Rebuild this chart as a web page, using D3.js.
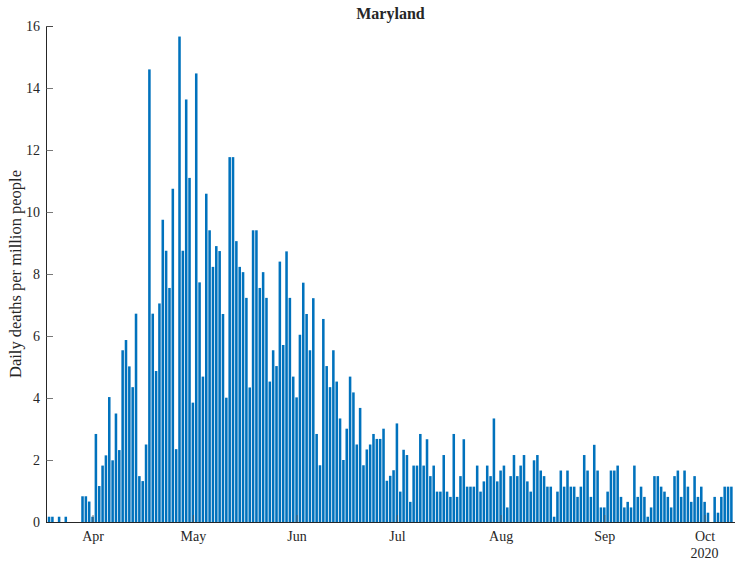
<!DOCTYPE html>
<html>
<head>
<meta charset="utf-8">
<script src="https://cdn.jsdelivr.net/npm/d3@7"></script>
<style>
  html, body { margin: 0; padding: 0; background: #fff; }
  svg { display: block; }
  text { font-family: "Liberation Serif", "Times New Roman", serif; fill: #262626; }
</style>
</head>
<body>
<svg id="chart" width="735" height="561"></svg>
<script>
// ---- data ----
const title = "Maryland";
const yLabel = "Daily deaths per million people";
const startDate = "2020-03-19"; // first bar
const deathsPerMillion = [
  0.17, 0.17, 0, 0.17, 0, 0.17, 0, 0, 0, 0,
  0.83, 0.83, 0.66, 0.17, 2.84, 1.16, 1.82, 2.15, 4.03, 1.99,
  3.5, 2.32, 5.54, 5.87, 5.02, 4.35, 6.72, 1.48, 1.32, 2.5,
  14.6, 6.72, 4.87, 7.05, 9.75, 8.75, 7.55, 10.75, 2.35, 15.66,
  8.75, 13.63, 11.1, 3.85, 14.47, 7.73, 4.69, 10.59, 9.41, 8.23,
  8.9, 8.74, 6.71, 4.01, 11.77, 11.77, 9.06, 8.23, 8.06, 7.23,
  4.34, 9.41, 9.41, 7.55, 8.06, 7.23, 4.53, 5.54, 5.03, 8.4,
  5.71, 8.73, 7.23, 4.69, 4.02, 6.04, 7.72, 6.71, 5.54, 7.22,
  2.84, 1.83, 6.55, 5.03, 4.35, 5.54, 4.53, 3.34, 2.0, 3.01,
  4.69, 4.18, 2.5, 3.68, 1.83, 2.34, 2.5, 2.84, 2.68, 2.68,
  3.01, 1.33, 1.49, 1.67, 3.18, 0.98, 2.33, 2.16, 0.65, 1.82,
  1.82, 2.84, 1.82, 2.67, 1.48, 1.82, 0.98, 0.98, 2.16, 0.98,
  0.81, 2.84, 0.81, 1.48, 2.67, 1.14, 1.14, 1.14, 1.82, 0.98,
  1.31, 1.82, 1.48, 3.34, 1.31, 1.66, 1.82, 0.47, 1.48, 2.16,
  1.48, 1.82, 2.16, 1.31, 0.98, 1.99, 2.16, 1.66, 1.48, 1.14,
  1.14, 0.17, 0.98, 1.66, 1.14, 1.66, 1.14, 1.14, 0.81, 1.14,
  2.16, 1.66, 0.81, 2.49, 1.66, 0.47, 0.47, 0.98, 1.66, 1.66,
  1.82, 0.81, 0.47, 0.65, 0.47, 1.82, 0.81, 1.14, 0.81, 0.17,
  0.47, 1.48, 1.48, 1.14, 0.98, 0.81, 0.47, 1.48, 1.66, 0.81,
  1.66, 1.14, 0.65, 1.48, 0.81, 1.14, 0.65, 0.3, 0, 0.81,
  0.3, 0.81, 1.14, 1.14, 1.14
];
const monthTicks = ["2020-04-01", "2020-05-01", "2020-06-01", "2020-07-01", "2020-08-01", "2020-09-01", "2020-10-01"];
const monthLabels = ["Apr", "May", "Jun", "Jul", "Aug", "Sep", "Oct"];
const yearLabel = "2020";
const yTicks = [0, 2, 4, 6, 8, 10, 12, 14, 16];

// ---- layout ----
const svg = d3.select("#chart");
const pLeft = 46, pRight = 735, pTop = 26, pBottom = 522;
const tickFont = 14;

const parse = d3.utcParse("%Y-%m-%d");
const d0 = parse(startDate);
const dates = deathsPerMillion.map((v, i) => d3.utcDay.offset(d0, i));

const x = d3.scaleUtc()
  .domain([d3.utcHour.offset(d0, -22), d3.utcHour.offset(dates[dates.length - 1], 26)])
  .range([pLeft, pRight]);
const y = d3.scaleLinear().domain([0, 16]).range([pBottom, pTop]);

const dayW = x(d3.utcDay.offset(d0, 1)) - x(d0);
const barW = dayW * 0.76;

// bars
svg.append("g").selectAll("rect")
  .data(deathsPerMillion.map((v, i) => ({ d: dates[i], v })))
  .join("rect")
  .attr("x", d => x(d.d) - barW / 2)
  .attr("width", barW)
  .attr("y", d => y(d.v))
  .attr("height", d => y(0) - y(d.v))
  .attr("fill", "#0072BD");

// y axis
const yAxis = d3.axisLeft(y).tickValues(yTicks).tickSize(-7).tickPadding(6).tickFormat(d3.format("d"));
const gy = svg.append("g").attr("transform", `translate(${pLeft},0)`).call(yAxis);
gy.select(".domain").attr("stroke", "#262626").attr("stroke-width", 1);
gy.selectAll(".tick line").attr("stroke", "#555").attr("stroke-width", 0.8);
gy.selectAll(".tick text").attr("font-size", tickFont).attr("font-family", "Liberation Serif, serif").attr("fill", "#262626");

// x axis
const xTickDates = monthTicks.map(parse);
const xAxis = d3.axisBottom(x).tickValues(xTickDates).tickSize(-7).tickPadding(9)
  .tickFormat((d, i) => monthLabels[i]);
const gx = svg.append("g").attr("transform", `translate(0,${pBottom})`).call(xAxis);
gx.select(".domain").attr("stroke", "#262626").attr("stroke-width", 1).attr("d", `M${pLeft},0.5H${pRight}`);
gx.selectAll(".tick line").attr("stroke", "#555").attr("stroke-width", 0.8);
gx.selectAll(".tick text").attr("font-size", tickFont).attr("font-family", "Liberation Serif, serif").attr("fill", "#262626");

// year label under last tick
svg.append("text")
  .attr("x", x(xTickDates[xTickDates.length - 1]))
  .attr("y", 558)
  .attr("text-anchor", "middle")
  .attr("font-size", tickFont)
  .text(yearLabel);

// title
svg.append("text")
  .attr("x", (pLeft + pRight) / 2)
  .attr("y", 19)
  .attr("text-anchor", "middle")
  .attr("font-size", 16)
  .attr("font-weight", "bold")
  .attr("fill", "#000")
  .text(title);

// y label
svg.append("text")
  .attr("transform", `translate(21,${(pTop + pBottom) / 2}) rotate(-90)`)
  .attr("text-anchor", "middle")
  .attr("font-size", 16.5)
  .text(yLabel);
</script>
</body>
</html>
